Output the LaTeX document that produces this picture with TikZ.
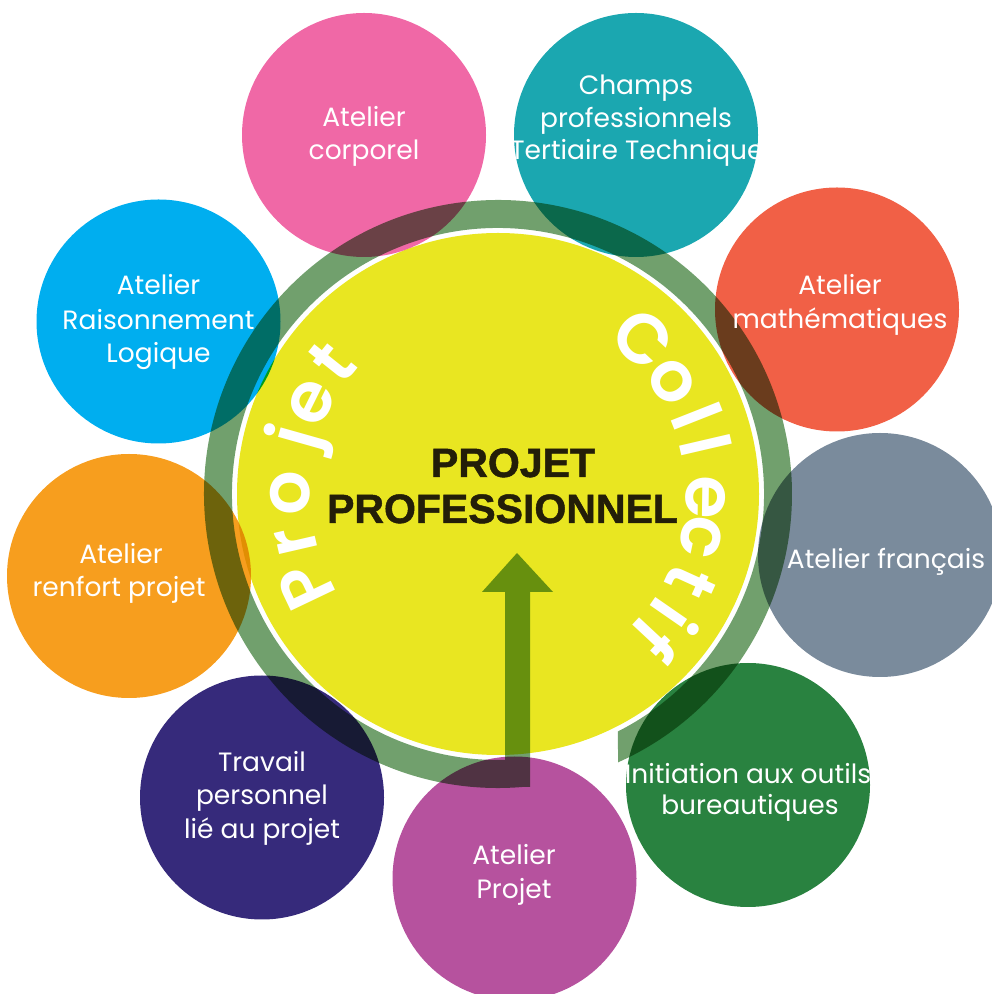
\documentclass[tikz,border=0pt]{standalone}
\usepackage{fontspec}
\setmainfont{Poppins}
\newfontfamily\centralfont{Liberation Sans}[FakeBold=1.2]
\IfFontExistsTF{Poppins SemiBold}{\newfontfamily\arcfont{Poppins SemiBold}}{\newfontfamily\arcfont{Poppins}[FakeBold=1.5]}
\definecolor{ringc}{RGB}{113,160,109}
\definecolor{yel}{RGB}{233,230,33}
\definecolor{pinkc}{RGB}{240,104,166}
\definecolor{tealc}{RGB}{27,167,176}
\definecolor{redc}{RGB}{241,96,70}
\definecolor{grayc}{RGB}{122,139,156}
\definecolor{greenc}{RGB}{41,130,64}
\definecolor{purplec}{RGB}{182,82,158}
\definecolor{indigoc}{RGB}{54,42,123}
\definecolor{orangec}{RGB}{247,158,30}
\definecolor{bluec}{RGB}{0,174,239}
\definecolor{darktext}{RGB}{35,30,8}
\tikzset{
  bubble/.style={circle, fill=#1, minimum size=244pt, inner sep=0pt},
  lab/.style={text=white, font=\fontsize{26.5}{26.5}\selectfont, anchor=base, inner sep=0pt},
  arcl/.style={text=white, font=\arcfont\fontsize{70}{70}\selectfont, anchor=base, inner sep=0pt},
  central/.style={text=darktext, font=\centralfont\bfseries\fontsize{41}{41}\selectfont, anchor=base, inner sep=0pt}
}
\newcommand\rb{188}
\begin{document}
\begin{tikzpicture}[x=1pt,y=1pt]
\useasboundingbox (0,0) rectangle (992,994);
\clip (0,0) rectangle (992,994);
\coordinate (O) at (498,500);
\begin{scope}[blend mode=multiply]
  \node[bubble=yel, minimum size=522pt] (core) at (O) {};
  \fill[ringc] ([shift={(-83.75:294)}]O) arc[start angle=-83.75, end angle=-425.9, radius=294]
     -- ([shift={(-423.2:266)}]O) arc[start angle=-423.2, end angle=-83.1, radius=266] -- cycle
     (517,441) -- (553,402) -- (530,402) -- (530,207) -- (505,207) -- (505,402) -- (482,402) -- cycle;
  \node[bubble=pinkc]   (b1) at (364,859) {};
  \node[bubble=tealc]   (b2) at (636,859) {};
  \node[bubble=redc]    (b3) at (837,684.5) {};
  \node[bubble=grayc]   (b4) at (880,439) {};
  \node[bubble=greenc]  (b5) at (748,209) {};
  \node[bubble=purplec] (b6) at (514.5,115.5) {};
  \node[bubble=indigoc] (b7) at (262,196.5) {};
  \node[bubble=orangec] (b8) at (129,418) {};
  \node[bubble=bluec]   (b9) at (158.5,672.5) {};
\end{scope}
% labels
\node[lab] (l1a) at (364,867) {Atelier};
\node[lab] (l1b) at (364,834) {corporel};
\node[lab] (l2a) at (636,899) {Champs};
\node[lab] (l2b) at (636,866.5) {professionnels};
\node[lab] (l2c) at (637,834) {Tertiaire Technique};
\node[lab] (l3a) at (840,699) {Atelier};
\node[lab] (l3b) at (840,665.7) {mathématiques};
\node[lab] (l4a) at (886,425.7) {Atelier français};
\node[lab] (l5a) at (748,210.7) {Initiation aux outils};
\node[lab] (l5b) at (750,179) {bureautiques};
\node[lab] (l6a) at (514,129) {Atelier};
\node[lab] (l6b) at (514,95.7) {Projet};
\node[lab] (l7a) at (262,222.3) {Travail};
\node[lab] (l7b) at (262,189) {personnel};
\node[lab] (l7c) at (262,155.7) {lié au projet};
\node[lab] (l8a) at (121,430.7) {Atelier};
\node[lab] (l8b) at (119,397.3) {renfort projet};
\node[lab] (l9a) at (158.5,699) {Atelier};
\node[lab] (l9b) at (158.5,664.7) {Raisonnement};
\node[lab] (l9c) at (158.5,631.3) {Logique};
% central title
\node[central] (c1) at (513,517) {PROJET};
\node[central] (c2) at (502.5,471) {PROFESSIONNEL};
% Projet along arc
\node[arcl, rotate=115.5] (pj1) at ([shift={(205.5:\rb)}]O) {P};
\node[arcl, rotate=103]   (pj2) at ([shift={(193:\rb)}]O) {r};
\node[arcl, rotate=89.7]  (pj3) at ([shift={(179.7:\rb)}]O) {o};
\node[arcl, rotate=74.2]  (pj4) at ([shift={(164.2:\rb)}]O) {j};
\node[arcl, rotate=63.7]  (pj5) at ([shift={(153.7:\rb)}]O) {e};
\node[arcl, rotate=51.4]  (pj6) at ([shift={(141.4:\rb)}]O) {t};
% Collectif along arc
\node[arcl, rotate=-43.1]  (cl1) at ([shift={(46.9:\rb)}]O) {C};
\node[arcl, rotate=-57.1]  (cl2) at ([shift={(32.9:\rb)}]O) {o};
\node[arcl, rotate=-68.5]  (cl3) at ([shift={(21.5:\rb)}]O) {l};
\node[arcl, rotate=-76.9]  (cl4) at ([shift={(13.1:\rb)}]O) {l};
\node[arcl, rotate=-90.8]  (cl5) at ([shift={(-0.8:\rb)}]O) {e};
\node[arcl, rotate=-102]   (cl6) at ([shift={(-12:\rb)}]O) {c};
\node[arcl, rotate=-114.4] (cl7) at ([shift={(-24.4:\rb)}]O) {t};
\node[arcl, rotate=-124.7] (cl8) at ([shift={(-34.7:\rb)}]O) {i};
\node[arcl, rotate=-133]   (cl9) at ([shift={(-43:\rb)}]O) {f};
\end{tikzpicture}
\end{document}
